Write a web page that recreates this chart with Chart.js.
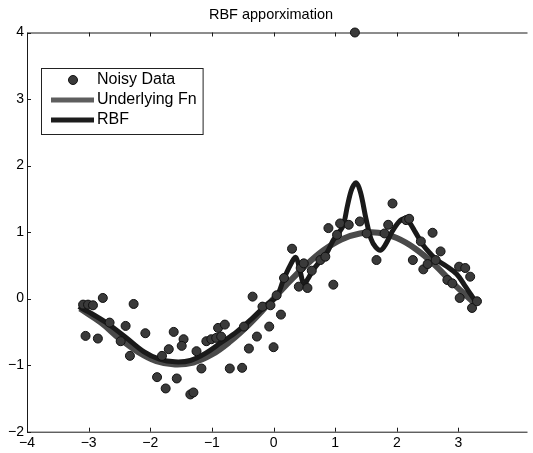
<!DOCTYPE html>
<html>
<head>
<meta charset="utf-8">
<title>RBF apporximation</title>
<script src="https://cdn.jsdelivr.net/npm/chart.js@4.4.1/dist/chart.umd.min.js"></script>
<style>
  html, body { margin: 0; padding: 0; background: #fff; }
  #rbfChart { display: block; }
</style>
</head>
<body>
<canvas id="rbfChart" width="533" height="453"></canvas>
<script>
// tick labels
const xTicks = [-4, -3, -2, -1, 0, 1, 2, 3];
const yTicks = [-2, -1, 0, 1, 2, 3, 4];

// noisy samples
const noisyX = [-3.09, -3.01, -2.93, -2.77, -2.27, -3.05, -2.85, -2.66, -2.40, -2.48,
  -2.08, -2.33, -1.62, -1.70, -1.81, -1.89, -1.57, -1.75, -1.46, -1.49,
  -1.35, -1.30, -1.25, -1.17, -1.09, -1.01, -0.93, -0.90, -0.79, -0.85,
  -0.71, -0.51, -0.40, -0.48, -0.27, -0.34, -0.18, -0.07, 0.00, 0.12,
  0.17, 0.30, 0.41, 0.55, 0.44, 0.49, 0.62, 0.76, 0.84, 0.97,
  0.89, 1.08, 1.22, 1.40, 1.03, 1.51, 1.67, 1.93, 2.26, 2.58,
  2.15, 2.20, 2.71, 2.43, 2.50, 2.82, 2.90, 3.01, 3.11, 3.02,
  3.22, 3.30, 1.86, 1.80, 2.39, 2.63, 3.19, 1.32, -0.05, 0.05];
const noisyY = [-0.09, -0.09, -0.10, 0.01, -0.08, -0.56, -0.60, -0.36, -0.41, -0.64,
  -0.52, -0.86, -0.50, -0.76, -0.86, -1.18, -1.20, -1.35, -0.61, -0.71,
  -1.44, -1.41, -0.79, -1.05, -0.64, -0.61, -0.59, -0.44, -0.39, -0.57,
  -1.05, -1.04, -0.75, -0.42, -0.57, 0.03, -0.12, -0.42, -0.73, -0.24,
  0.31, 0.75, 0.18, 0.16, 0.46, 0.53, 0.42, 0.58, 0.63, 0.21,
  1.06, 1.13, 1.11, 1.16, 0.96, 0.98, 0.58, 1.43, 0.58, 0.99,
  1.18, 1.20, 0.71, 0.44, 0.52, 0.28, 0.23, 0.48, 0.46, 0.01,
  -0.14, -0.04, 1.11, 0.98, 0.86, 0.58, 0.33, 4.00, -0.10, 0.05];

// underlying function
const fnX = [-3.14, -2.8, -2.5, -2.2, -1.9, -1.6, -1.3, -1.0, -0.7, -0.4, -0.1,
  0.2, 0.5, 0.8, 1.1, 1.4, 1.7, 2.0, 2.3, 2.6, 2.9, 3.24];
const fnY = [-0.15, -0.36, -0.6, -0.8, -0.94, -0.99, -0.96, -0.84, -0.64, -0.39, -0.1,
  0.2, 0.48, 0.72, 0.89, 0.98, 0.99, 0.91, 0.75, 0.52, 0.24, -0.05];

// RBF fit
const rbfX = [-3.16, -3.0, -2.7, -2.4, -2.1, -1.85, -1.6, -1.35, -1.1, -0.85, -0.6, -0.35,
  -0.1, 0.05, 0.16, 0.27, 0.36, 0.43, 0.49, 0.56, 0.64, 0.75, 0.86, 0.97, 1.05, 1.13,
  1.2, 1.27, 1.34, 1.41, 1.5, 1.58, 1.66, 1.74, 1.82, 1.92, 2.03, 2.12, 2.2, 2.3,
  2.43, 2.55, 2.65, 2.8, 2.97, 3.1, 3.26];
const rbfY = [-0.12, -0.2, -0.37, -0.58, -0.8, -0.91, -0.95, -0.93, -0.82, -0.66, -0.5, -0.3,
  -0.08, 0.03, 0.28, 0.5, 0.62, 0.42, 0.22, 0.3, 0.43, 0.56, 0.68, 0.88, 0.98, 1.1,
  1.4, 1.65, 1.74, 1.6, 1.2, 0.9, 0.77, 0.73, 0.82, 1.0, 1.15, 1.2, 1.15, 1.0,
  0.8, 0.67, 0.58, 0.49, 0.37, 0.2, -0.02];

const legendLabels = ['Noisy Data', 'Underlying Fn', 'RBF'];

const toPoints = (xs, ys) => xs.map((v, i) => ({ x: v, y: ys[i] }));
const fmt = v => (v < 0 ? '\u2212' + Math.abs(v) : String(v));
const family = '"Liberation Sans", Arial, sans-serif';

const matlabAxes = {
  id: 'matlabAxes',
  beforeDatasetsDraw(chart) {
    const { ctx, chartArea: a, scales: { x, y } } = chart;
    ctx.save();
    ctx.strokeStyle = '#1a1a1a';
    ctx.lineWidth = 1;
    ctx.beginPath();
    ctx.moveTo(a.right, a.top + 0.5);
    ctx.lineTo(a.left + 0.5, a.top + 0.5);
    ctx.lineTo(a.left + 0.5, a.bottom + 0.5);
    ctx.lineTo(a.right, a.bottom + 0.5);
    // inward ticks
    xTicks.forEach(v => {
      const px = Math.round(x.getPixelForValue(v)) + 0.5;
      ctx.moveTo(px, a.bottom); ctx.lineTo(px, a.bottom - 4);
      ctx.moveTo(px, a.top); ctx.lineTo(px, a.top + 4);
    });
    yTicks.forEach(v => {
      const py = Math.round(y.getPixelForValue(v)) + 0.5;
      ctx.moveTo(a.left, py); ctx.lineTo(a.left + 4, py);
    });
    ctx.stroke();

    ctx.fillStyle = '#000';
    ctx.font = '14px ' + family;
    ctx.textAlign = 'center';
    ctx.textBaseline = 'top';
    xTicks.forEach(v => ctx.fillText(fmt(v), x.getPixelForValue(v), a.bottom + 4));
    ctx.textAlign = 'right';
    ctx.textBaseline = 'middle';
    yTicks.forEach(v => ctx.fillText(fmt(v), a.left - 3, y.getPixelForValue(v)));

    ctx.font = '14.5px ' + family;
    ctx.textAlign = 'center';
    ctx.fillText('RBF apporximation', 271, 15);
    ctx.restore();
  },
  afterDraw(chart) {
    const { ctx } = chart;
    ctx.save();
    ctx.font = '16px ' + family;
    const textW = Math.max(...legendLabels.map(t => ctx.measureText(t).width));
    const boxL = 41, boxT = 68, boxB = 134, textX = 97;
    const boxW = textX + textW + 6 - boxL;
    ctx.fillStyle = '#fff';
    ctx.strokeStyle = '#222';
    ctx.lineWidth = 1;
    ctx.fillRect(boxL + 0.5, boxT + 0.5, boxW, boxB - boxT);
    ctx.strokeRect(boxL + 0.5, boxT + 0.5, boxW, boxB - boxT);

    const rows = [80, 100, 120];
    ctx.beginPath();
    ctx.arc(73, rows[0], 4.5, 0, Math.PI * 2);
    ctx.fillStyle = '#3a3a3a';
    ctx.fill();
    ctx.strokeStyle = '#111';
    ctx.stroke();

    ctx.lineWidth = 5;
    ctx.strokeStyle = '#5e5e5e';
    ctx.beginPath(); ctx.moveTo(51, rows[1]); ctx.lineTo(94, rows[1]); ctx.stroke();
    ctx.strokeStyle = '#1c1c1c';
    ctx.beginPath(); ctx.moveTo(51, rows[2]); ctx.lineTo(94, rows[2]); ctx.stroke();

    ctx.fillStyle = '#000';
    ctx.textAlign = 'left';
    ctx.textBaseline = 'middle';
    legendLabels.forEach((t, i) => ctx.fillText(t, textX, rows[i]));
    ctx.restore();
  }
};

new Chart(document.getElementById('rbfChart').getContext('2d'), {
  type: 'scatter',
  data: {
    datasets: [
      {
        label: legendLabels[0],
        data: toPoints(noisyX, noisyY),
        pointRadius: 4.5,
        pointBackgroundColor: '#3a3a3a',
        pointBorderColor: '#111',
        pointBorderWidth: 1,
        clip: false,
        order: 0
      },
      {
        label: legendLabels[1],
        data: toPoints(fnX, fnY),
        showLine: true,
        borderColor: '#4a4a4a',
        borderWidth: 6,
        pointRadius: 0,
        tension: 0.4,
        order: 2
      },
      {
        label: legendLabels[2],
        data: toPoints(rbfX, rbfY),
        showLine: true,
        borderColor: '#1a1a1a',
        borderWidth: 5,
        pointRadius: 0,
        tension: 0.35,
        order: 1
      }
    ]
  },
  options: {
    responsive: false,
    animation: false,
    layout: { padding: { left: 27, top: 32.5, right: 0, bottom: 21.3 } },
    plugins: {
      legend: { display: false },
      title: { display: false },
      tooltip: { enabled: false }
    },
    scales: {
      x: { type: 'linear', min: -4, max: 4.12, display: false },
      y: { type: 'linear', min: -2, max: 4, display: false }
    }
  },
  plugins: [matlabAxes]
});
</script>
</body>
</html>
